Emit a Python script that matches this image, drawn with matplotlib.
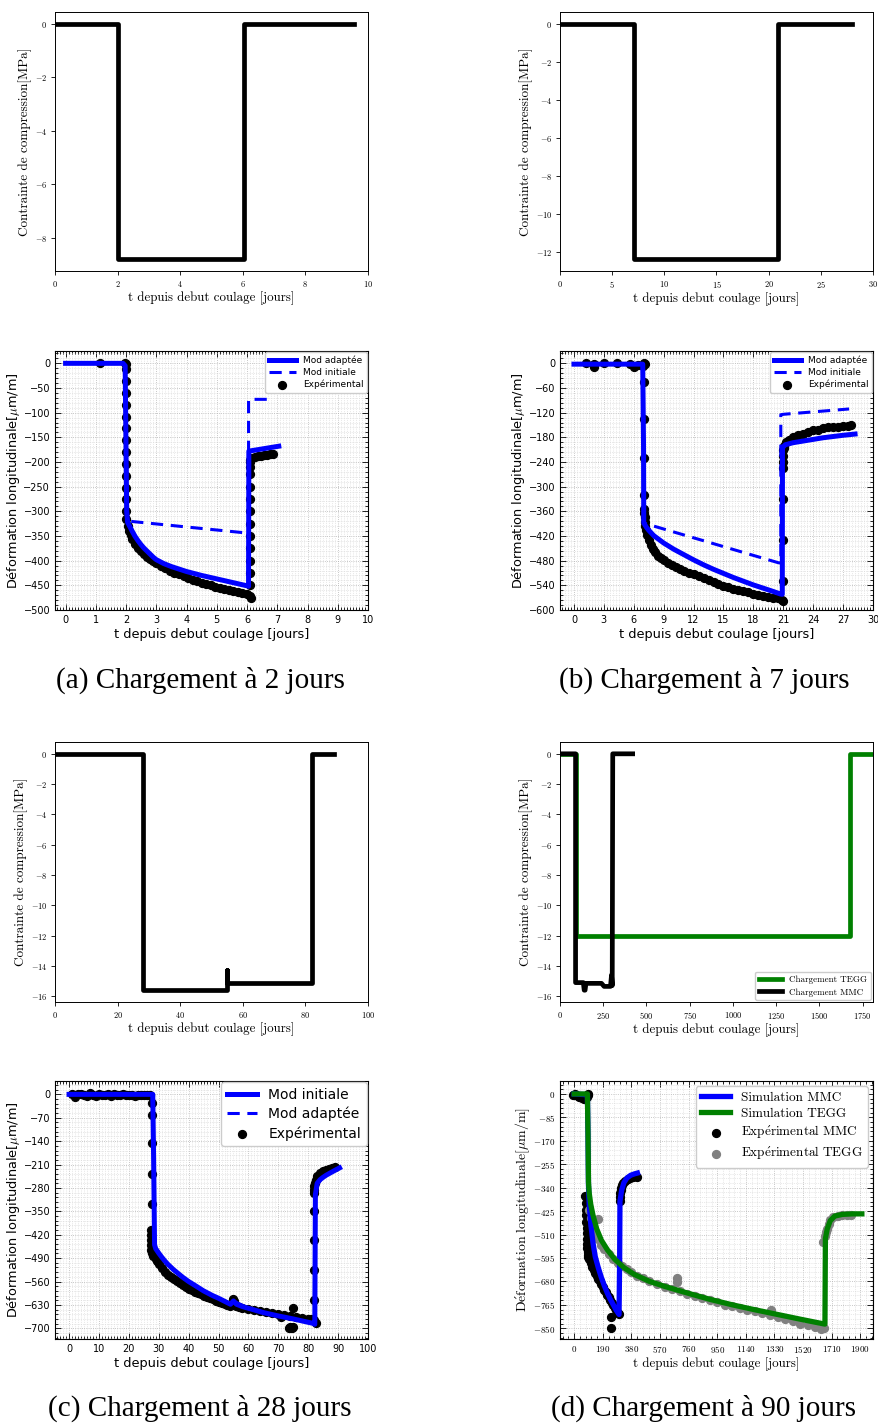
import matplotlib
matplotlib.use("Agg")
import matplotlib.pyplot as plt
from matplotlib.ticker import MultipleLocator, AutoMinorLocator, FuncFormatter

W, H = 879, 1423
plt.rcParams["mathtext.fontset"] = "cm"
CM = ["cmr10", "DejaVu Serif"]

# ---------------- stress histories (top panels) ----------------
a_t_sig = [0, 2.0, 2.0, 6.05, 6.05, 9.55]
a_sig = [0, 0, -8.8, -8.8, 0, 0]

b_t_sig = [0, 7.05, 7.05, 20.9, 20.9, 28.0]
b_sig = [0, 0, -12.4, -12.4, 0, 0]

c_t_sig = [0, 28.2, 28.2, 55.0, 55.0, 55.1, 55.1, 82.0, 82.0, 89.0]
c_sig = [0, 0, -15.6, -15.6, -14.3, -14.3, -15.1, -15.1, 0, 0]

d_t_sig_mmc = [0, 90, 90, 135, 140, 145, 150, 240, 255, 292, 298, 302, 305, 420]
d_sig_mmc = [0, 0, -15.1, -15.1, -15.6, -15.6, -15.15, -15.15, -15.35, -15.35, -14.6, -15.3, 0, 0]
d_t_sig_tegg = [0, 92, 92, 1675, 1675, 1810]
d_sig_tegg = [0, 0, -12.0, -12.0, 0, 0]

# ---------------- strain, panel (a) ----------------
a_t_adapt = [0, 1.9, 1.97, 2.02, 2.05, 2.1, 2.2, 2.3, 2.4, 2.5, 2.6, 2.7, 2.8, 2.9, 3.0, 3.25, 3.5, 3.75,
             4.0, 4.5, 5.0, 5.5, 6.0, 6.05, 6.06, 7.05]
a_e_adapt = [0, 0, -5, -300, -322, -328, -340, -351, -360, -368, -375, -381, -387, -393, -398, -406, -412,
             -417, -422, -430, -437, -444, -451, -452, -178, -168]
a_t_init = [0, 1.9, 1.97, 2.05, 2.1, 6.0, 6.05, 6.05, 6.9]
a_e_init = [0, 0, -5, -310, -320, -344, -345, -73, -73]
a_t_exp = [1.15, 1.95, 2.0, 2.0, 2.0, 2.0, 2.0, 2.0, 2.0, 2.0, 2.0, 2.0, 2.0, 2.0, 2.0, 2.0, 2.0,
           2.05, 2.1, 2.15, 2.2, 2.3, 2.4, 2.5, 2.6, 2.7, 2.8, 2.9, 3.0, 3.15, 3.3, 3.45, 3.6, 3.75,
           3.9, 4.05, 4.2, 4.35, 4.5, 4.65, 4.8, 4.95, 5.1, 5.25, 5.4, 5.55, 5.7, 5.85, 6.0, 6.1, 6.12,
           6.1, 6.1, 6.1, 6.1, 6.1, 6.1, 6.1, 6.1, 6.1, 6.1, 6.1, 6.1, 6.1,
           6.15, 6.25, 6.35, 6.45, 6.55, 6.65, 6.75, 6.85]
a_e_exp = [0, 0, -2, -12, -36, -60, -84, -108, -132, -156, -180, -204, -228, -252, -276, -300, -315,
           -330, -340, -348, -356, -366, -374, -381, -387, -392, -397, -401, -405, -410, -415, -420, -424, -428,
           -432, -436, -439, -442, -445, -448, -450, -453, -455, -457, -459, -461, -463, -465, -468, -472, -476,
           -450, -425, -400, -375, -350, -325, -300, -275, -250, -225, -210, -200, -195,
           -192, -190, -188, -187, -186, -185, -184, -183]

# ---------------- strain, panel (b) ----------------
b_t_adapt = [0, 6.9, 6.98, 7.0, 7.25, 7.5, 8, 8.5, 9, 10, 11, 12, 13, 14, 15, 16, 17, 18, 19, 20, 20.7,
             20.9, 20.92, 21.2, 22, 23, 24, 25, 26, 27, 28.2]
b_e_adapt = [-2, -2, -200, -388, -398, -406, -419, -428, -437, -452, -465, -478, -490, -501, -511, -521,
             -530, -539, -547, -555, -561, -562, -205, -198, -193, -189, -185, -181, -178, -175, -172]
b_t_init = [0, 6.9, 6.98, 7.0, 7.6, 20.5, 20.75, 20.75, 21.0, 27.6]
b_e_init = [-2, -2, -200, -388, -393, -485, -486, -125, -124, -111]
b_t_exp = [1.2, 2.0, 2.0, 3.0, 4.3, 5.6, 6.0, 6.4, 6.9, 7.0, 7.1,
           7.0, 7.0, 7.0, 7.0, 7.05, 7.05, 7.1, 7.1, 7.15,
           7.2, 7.35, 7.5, 7.7, 7.9, 8.1, 8.4, 8.7, 9.0, 9.4, 9.8, 10.2, 10.6, 11.0, 11.5, 12.0, 12.5, 13.0,
           13.5, 14.0, 14.5, 15.0, 15.5, 16.0, 16.5, 17.0, 17.5, 18.0, 18.5, 19.0, 19.5, 20.0, 20.5, 20.9, 21.0,
           21.0, 21.0, 21.0, 21.0, 21.0, 21.0, 21.0, 21.05, 21.1,
           21.3, 21.6, 22.0, 22.5, 23.0, 23.5, 24.0, 24.5, 25.0, 25.5, 26.0, 26.5, 27.0, 27.5, 27.8]
b_e_exp = [0, -2, -8, 0, 0, -2, -8, -3, -6, 0, -2,
           -45, -135, -230, -320, -355, -365, -375, -385, -395,
           -405, -418, -430, -442, -452, -460, -468, -474, -479, -485, -490, -496, -501, -506, -511, -513, -518, -523,
           -528, -533, -537, -541, -545, -548, -551, -554, -557, -560, -563, -566, -568, -570, -572, -575, -578,
           -530, -430, -330, -255, -240, -225, -212, -205, -200,
           -192, -186, -180, -175, -171, -167, -163, -161, -158, -156, -155, -154, -153, -152, -150]

# ---------------- strain, panel (c) ----------------
c_t_init = [0, 28.0, 28.3, 28.6, 29, 30, 31, 32, 33, 35, 38, 40, 42, 45, 48, 50, 52, 54, 55, 56, 58, 60,
            65, 70, 75, 81.5, 82.2, 82.4, 83, 84, 85, 86, 87, 88, 89, 90.5]
c_e_init = [0, 0, -200, -450, -462, -475, -487, -498, -508, -525, -547, -560, -571, -588, -602, -610, -619,
            -628, -618, -628, -635, -640, -653, -663, -672, -685, -688, -300, -266, -255, -248, -242, -237,
            -232, -227, -220]
c_t_adapt = [0, 28.0, 28.3, 28.6, 30, 32, 35, 40, 45, 50, 54, 55, 60, 70, 81.5, 82.2, 82.4, 83, 86, 90.5]
c_e_adapt = [0, 0, -200, -450, -475, -498, -525, -560, -588, -610, -628, -618, -640, -663, -685, -688, -300,
             -266, -242, -220]
c_t_exp = [1, 2, 3, 4, 5, 6, 7, 8, 9, 10, 11, 12, 13, 14, 15, 16, 17, 18, 19, 20, 21, 22, 23, 24, 25, 26, 27,
           27.8, 27.8, 27.8, 27.8, 27.8, 27.5, 27.5, 27.5, 27.5, 27.5, 27.6, 28,
           28.5, 29, 29.5, 30, 31, 32, 33, 34, 35, 36, 37, 38, 39, 40, 41, 42, 43, 44, 45, 46, 47, 48, 49, 50,
           51, 52, 53, 54, 55, 55.2, 56, 57, 58, 60, 62, 64, 66, 68, 70, 72, 74, 76, 78, 80, 81, 82, 82.5,
           74, 74.5, 75, 73.5, 75, 71,
           82, 82, 82, 82, 82, 82, 82, 82.2, 82.5,
           83, 84, 85, 86, 87, 88, 89]
c_e_exp = [0, -8, 0, 2, -3, -6, 5, -2, -4, 0, -3, -2, 0, -4, 1, -3, -2, 0, -3, -2, -3, -4, -3, -2, -3, -3, -2,
           -27, -62, -147, -237, -327, -405, -420, -435, -450, -465, -475, -485,
           -482, -492, -500, -507, -520, -531, -540, -546, -552, -558, -564, -570, -576, -582, -586, -590, -594,
           -598, -603, -606, -610, -613, -617, -620, -623, -626, -629, -632, -612, -618, -634, -636, -638, -642,
           -645, -648, -651, -654, -657, -660, -663, -666, -669, -671, -673, -676, -684,
           -695, -700, -695, -698, -640, -665,
           -615, -525, -435, -350, -295, -285, -275, -265, -255,
           -245, -236, -230, -226, -222, -219, -217]

# ---------------- strain, panel (d) ----------------
d_t_sim_mmc = [0, 88, 92, 95, 100, 110, 125, 140, 160, 180, 200, 220, 240, 260, 280, 298, 302, 304, 315,
               330, 350, 375, 400, 420]
d_e_sim_mmc = [0, -3, -150, -330, -400, -470, -540, -590, -630, -665, -695, -722, -745, -765, -785, -800,
               -600, -390, -350, -322, -305, -295, -290, -287]
d_t_sim_tegg = [0, 88, 92, 95, 100, 110, 125, 150, 180, 220, 270, 330, 400, 500, 600, 750, 900, 1050, 1200,
                1350, 1500, 1600, 1665, 1668, 1680, 1700, 1730, 1780, 1850, 1910]
d_e_sim_tegg = [0, 0, -150, -320, -360, -400, -440, -490, -530, -565, -600, -630, -655, -680, -698, -722,
                -745, -765, -783, -800, -817, -828, -835, -525, -490, -460, -443, -437, -435, -435]
d_t_exp_mmc = [-10, 5, 15, 25, 35, 45, 55, 65, 75, 85, 90, 92,
               75, 77, 78, 80, 80, 82, 83, 84, 86, 88, 90, 92, 95,
               100, 110, 120, 130, 140, 150, 160, 170, 180, 190, 200, 210, 220, 230, 240, 250, 260, 270, 280,
               290, 298, 245, 245,
               303, 304, 305, 308, 312, 318, 327, 340, 355, 371, 390, 415]
d_e_exp_mmc = [-2, 0, -5, -8, -10, -12, -15, -18, -20, -10, 0, -5,
               -372, -395, -420, -440, -465, -485, -505, -525, -545, -560, -575, -585, -592,
               -600, -615, -628, -640, -650, -660, -670, -680, -690, -700, -710, -719, -728, -738, -748, -758,
               -767, -776, -785, -793, -800, -810, -848,
               -390, -375, -360, -350, -340, -332, -324, -316, -310, -306, -302, -300]
d_t_exp_tegg = [100, 110, 125, 140, 160, 180, 161, 200, 230, 260, 290, 320, 350, 380, 420, 460, 500, 550, 600,
                650, 685, 685, 700, 750, 800, 850, 900, 950, 1000, 1050, 1100, 1150, 1200, 1250, 1300, 1310,
                1350, 1400, 1450, 1500, 1550, 1600, 1640, 1660,
                1655, 1665, 1672, 1680, 1690, 1700, 1720, 1750, 1780, 1810, 1840]
d_e_exp_tegg = [-420, -450, -478, -502, -528, -548, -453, -562, -582, -598, -612, -624, -636, -646, -659, -669,
                -679, -689, -699, -709, -669, -684, -716, -726, -734, -742, -749, -756, -764, -770, -776, -782,
                -789, -795, -801, -784, -809, -817, -825, -833, -840, -847, -852, -850,
                -536, -515, -500, -490, -470, -458, -446, -441, -440, -439, -439]

captions = ["(a) Chargement à 2 jours", "(b) Chargement à 7 jours",
            "(c) Chargement à 28 jours", "(d) Chargement à 90 jours"]
xlab = "t depuis debut coulage [jours]"
ylab_sig = "Contrainte de compression[MPa]"
ylab_eps = r"Déformation longitudinale[$\mu$m/m]"
ylab_eps_cm = r"$\mathrm{D\acute{e}formation\ longitudinale[}\mu\mathrm{m/m]}$"


def rect(x0, y0, x1, y1):
    return [x0 / W, 1 - y1 / H, (x1 - x0) / W, (y1 - y0) / H]


cm_fmt = FuncFormatter(lambda v, p: f"${v:g}$")


def stress_axes(ax, xlim, xstep, ystep):
    ax.set_xlim(*xlim)
    ax.xaxis.set_major_locator(MultipleLocator(xstep))
    ax.yaxis.set_major_locator(MultipleLocator(ystep))
    ax.xaxis.set_major_formatter(cm_fmt)
    ax.yaxis.set_major_formatter(cm_fmt)
    ax.tick_params(labelsize=6, width=0.6, length=3, pad=2.5)
    for s in ax.spines.values():
        s.set_linewidth(0.7)
    ax.set_xlabel(xlab, family=CM, fontsize=9.3, labelpad=2)
    ax.set_ylabel(ylab_sig, family=CM, fontsize=9.5, labelpad=2)


def strain_axes(ax, xlim, ylim, xstep, ystep, serif=False):
    ax.set_xlim(*xlim)
    ax.set_ylim(*ylim)
    ax.xaxis.set_major_locator(MultipleLocator(xstep))
    ax.yaxis.set_major_locator(MultipleLocator(ystep))
    ax.xaxis.set_minor_locator(AutoMinorLocator(10))
    ax.yaxis.set_minor_locator(AutoMinorLocator(5))
    ax.tick_params(which="both", direction="in", top=True, right=True, width=0.6)
    ax.tick_params(which="major", length=4)
    ax.tick_params(which="minor", length=2)
    ax.grid(which="major", ls=":", lw=0.6, color="#b5b5b5")
    ax.grid(which="minor", ls=":", lw=0.5, color="#d5d5d5")
    ax.set_axisbelow(True)
    if serif:
        ax.xaxis.set_major_formatter(cm_fmt)
        ax.yaxis.set_major_formatter(cm_fmt)
        ax.tick_params(labelsize=6.5)
        ax.set_xlabel(xlab, family=CM, fontsize=9.3, labelpad=2)
        ax.set_ylabel(ylab_eps_cm, fontsize=10, labelpad=1)
    else:
        ax.tick_params(labelsize=7)
        ax.set_xlabel(xlab, fontsize=9.3, labelpad=2)
        ax.set_ylabel(ylab_eps, fontsize=9.3, labelpad=1)


fig = plt.figure(figsize=(W / 100, H / 100), dpi=100)

# ---- (a) ----
ax = fig.add_axes(rect(55, 12, 368, 271))
ax.plot(a_t_sig, a_sig, color="k", lw=3.4, solid_joinstyle="round")
stress_axes(ax, (0, 10), 2, 2)

ax = fig.add_axes(rect(55, 351, 368, 610))
ax.scatter(a_t_exp, a_e_exp, s=32, color="k", label="Expérimental")
ax.plot(a_t_adapt, a_e_adapt, color="blue", lw=3.6, label="Mod adaptée")
ax.plot(a_t_init, a_e_init, color="blue", lw=2.2, ls=(0, (4, 2.5)), label="Mod initiale")
strain_axes(ax, (-0.35, 10), (-500, 25), 1, 50)
h, l = ax.get_legend_handles_labels()
ax.legend([h[1], h[2], h[0]], [l[1], l[2], l[0]], loc="upper right", fontsize=6.5,
          handlelength=3.0, scatterpoints=1, borderaxespad=0.1, framealpha=1, labelspacing=0.3)

# ---- (b) ----
ax = fig.add_axes(rect(560, 12, 873, 271))
ax.plot(b_t_sig, b_sig, color="k", lw=3.4, solid_joinstyle="round")
stress_axes(ax, (0, 30), 5, 2)

ax = fig.add_axes(rect(560, 351, 873, 610))
ax.scatter(b_t_exp, b_e_exp, s=32, color="k", label="Expérimental")
ax.plot(b_t_adapt, b_e_adapt, color="blue", lw=3.6, label="Mod adaptée")
ax.plot(b_t_init, b_e_init, color="blue", lw=2.2, ls=(0, (4, 2.5)), label="Mod initiale")
strain_axes(ax, (-1.4, 30), (-600, 30), 3, 60)
h, l = ax.get_legend_handles_labels()
ax.legend([h[1], h[2], h[0]], [l[1], l[2], l[0]], loc="upper right", fontsize=6.5,
          handlelength=3.0, scatterpoints=1, borderaxespad=0.1, framealpha=1, labelspacing=0.3)

# ---- (c) ----
ax = fig.add_axes(rect(55, 742, 368, 1002))
ax.plot(c_t_sig, c_sig, color="k", lw=3.4, solid_joinstyle="round")
stress_axes(ax, (0, 100), 20, 2)

ax = fig.add_axes(rect(55, 1081, 368, 1339))
ax.scatter(c_t_exp, c_e_exp, s=32, color="k", label="Expérimental")
ax.plot(c_t_init, c_e_init, color="blue", lw=3.6, label="Mod initiale")
ax.plot(c_t_adapt, c_e_adapt, color="blue", lw=2.2, ls=(0, (4, 2.5)), label="Mod adaptée")
strain_axes(ax, (-4.7, 100), (-732, 40), 10, 70)
h, l = ax.get_legend_handles_labels()
ax.legend([h[1], h[2], h[0]], [l[1], l[2], l[0]], loc="upper right", fontsize=10,
          handlelength=2.2, scatterpoints=1, borderaxespad=0.1, framealpha=1, labelspacing=0.35)

# ---- (d) ----
ax = fig.add_axes(rect(560, 742, 873, 1002))
ax.plot(d_t_sig_tegg, d_sig_tegg, color="green", lw=3.4, label="Chargement TEGG")
ax.plot(d_t_sig_mmc, d_sig_mmc, color="k", lw=3.4, solid_joinstyle="round", label="Chargement MMC")
stress_axes(ax, (0, 1810), 250, 2)
ax.legend(loc="lower right", prop={"family": CM, "size": 6.5}, handlelength=2.6,
          borderaxespad=0.2, framealpha=1)

ax = fig.add_axes(rect(560, 1081, 873, 1339))
ax.scatter(d_t_exp_mmc, d_e_exp_mmc, s=32, color="k", label=r"$\mathrm{Exp\acute{e}rimental\ MMC}$")
ax.scatter(d_t_exp_tegg, d_e_exp_tegg, s=32, color="grey", label=r"$\mathrm{Exp\acute{e}rimental\ TEGG}$")
ax.plot(d_t_sim_mmc, d_e_sim_mmc, color="blue", lw=3.8, label="Simulation MMC")
ax.plot(d_t_sim_tegg, d_e_sim_tegg, color="green", lw=3.8, label="Simulation TEGG")
strain_axes(ax, (-94, 1984), (-889, 47), 190, 85, serif=True)
ax.xaxis.set_minor_locator(AutoMinorLocator(5))
h, l = ax.get_legend_handles_labels()
leg = ax.legend([h[2], h[3], h[0], h[1]], [l[2], l[3], l[0], l[1]], loc="upper right",
                prop={"family": CM, "size": 9.5}, handlelength=2.2, scatterpoints=1,
                borderaxespad=0.4, framealpha=1, labelspacing=0.3)

# ---- captions ----
for (cx, cy), txt in zip([(200, 680), (704, 680), (200, 1408), (704, 1408)], captions):
    fig.text(cx / W, 1 - cy / H, txt, ha="center", va="center",
             family="Liberation Serif", fontsize=21)

fig.savefig("out.png", dpi=100)
